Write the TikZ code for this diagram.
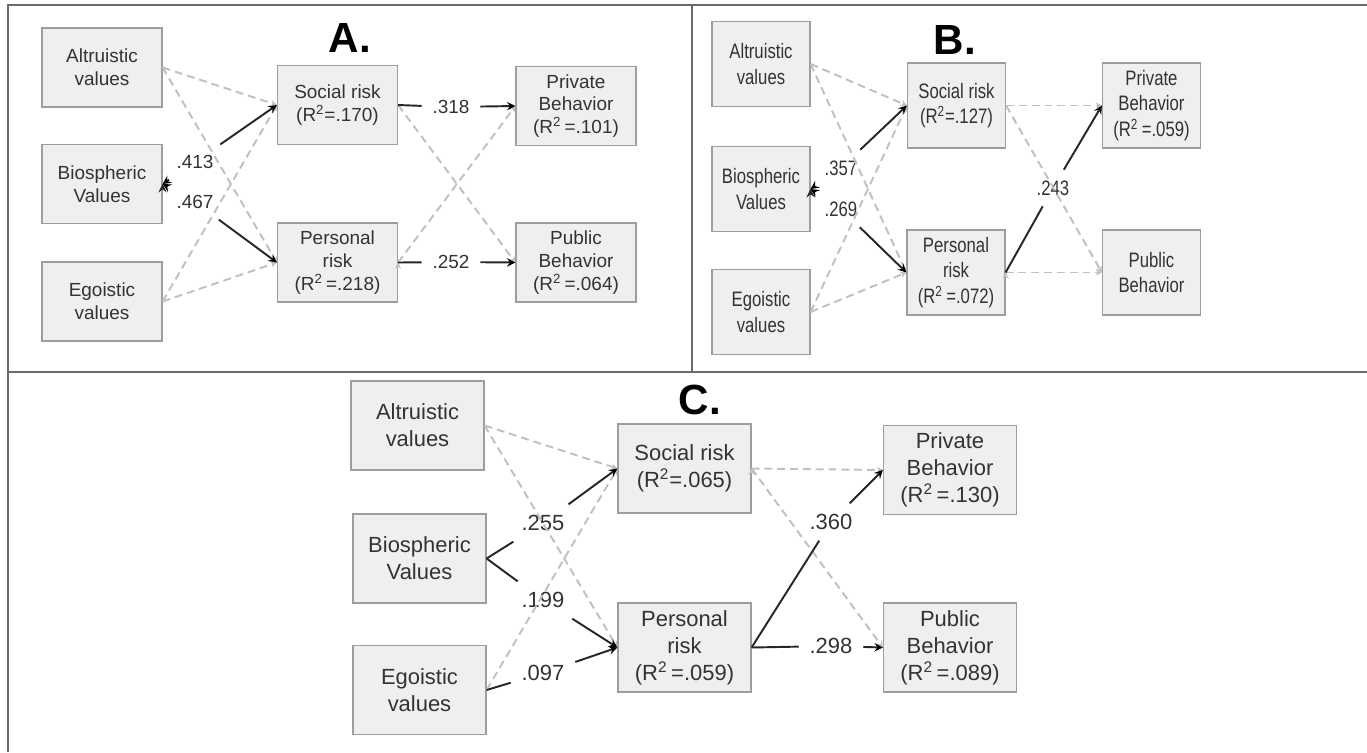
\documentclass[tikz,border=0pt]{standalone}
\usepackage{fontspec}
\setmainfont{Liberation Sans}
\newfontfamily\narrowfont[FakeStretch=0.8]{Liberation Sans}
\usetikzlibrary{arrows,arrows.meta,positioning}

\definecolor{boxfill}{HTML}{EFEFEF}
\definecolor{boxline}{HTML}{9E9E9E}
\definecolor{dashgray}{HTML}{C0C0C0}
\definecolor{pathblack}{HTML}{262626}
\definecolor{framegray}{HTML}{6B6B6B}
\definecolor{txtgray}{HTML}{333333}

\tikzset{
	var/.style={draw=boxline,fill=boxfill,align=center,inner sep=1pt,text=txtgray,line width=0.7pt},
	coef/.style={inner sep=6pt,text=txtgray},
	sig/.style={draw=pathblack,line width=1.1pt},
	nonsig/.style={draw=dashgray,line width=1.1pt,dash pattern=on 4.5pt off 2.8pt,
		-{Stealth[length=3.5pt,width=3.5pt]}},
	panel/.style={font=\fontsize{24}{24}\selectfont\bfseries,text=black,inner sep=0pt}
}

\begin{document}
\begin{tikzpicture}[x=0.02cm,y=-0.02cm]
	\useasboundingbox (0,0) rectangle (1367,752);
	\draw[framegray,line width=1.1pt] (8,752) -- (8,5) -- (1367,5);
	\draw[framegray,line width=1.1pt] (8,372) -- (1367,372);
	\draw[framegray,line width=1.1pt] (692,5) -- (692,372);

	% panel A
	\begin{scope}[every node/.append style={font=\fontsize{10.8}{13}\selectfont},
		var/.append style={minimum width=2.4cm,minimum height=1.58cm}]
		\node[panel] (ttlA) at (350,38) {A.};
		\node[var] (altA) at (102,67.5) {Altruistic\\values};
		\node[var] (bioA) at (102,184) {Biospheric\\Values};
		\node[var] (egoA) at (102,301.5) {Egoistic\\values};
		\node[var] (srA) at (337.5,105) {Social risk\\(R\textsuperscript{2}=.170)};
		\node[var] (prA) at (337.5,262.5) {Personal\\risk\\(R\textsuperscript{2}\,=.218)};
		\node[var] (privA) at (576,106) {Private\\Behavior\\(R\textsuperscript{2}\,=.101)};
		\node[var] (pubA) at (576,262.5) {Public\\Behavior\\(R\textsuperscript{2}\,=.064)};
		\node[coef] (l413) at (195,162) {.413};
		\node[coef] (l467) at (195,202) {.467};
		\node[coef] (l318) at (451,107) {.318};
		\node[coef] (l252) at (451,262) {.252};
		\path[nonsig]
		(altA.east) edge (srA.west)
		(altA.east) edge (prA.west)
		(egoA.east) edge (srA.west)
		(egoA.east) edge (prA.west)
		(srA.east) edge (pubA.west)
		(prA.east) edge (privA.west);
		\path[sig,stealth-]
		(bioA.east) edge (l413)
		(bioA.east) edge (l467);
		\path[sig,-stealth]
		(l413) edge (srA.west)
		(l467) edge (prA.west)
		(l318) edge (privA.west)
		(l252) edge (pubA.west);
		\path[sig]
		(srA.east) edge (l318)
		(prA.east) edge (l252);
	\end{scope}

	% panel B
	\begin{scope}[every node/.append style={font=\narrowfont\fontsize{11.9}{14.7}\selectfont},
		var/.append style={minimum width=1.96cm,minimum height=1.7cm}]
		\node[panel] (ttlB) at (955,40) {B.};
		\node[var] (altB) at (761,64) {Altruistic\\values};
		\node[var] (bioB) at (761,189) {Biospheric\\Values};
		\node[var] (egoB) at (761,312) {Egoistic\\values};
		\node[var] (srB) at (956.5,105.5) {Social risk\\(R\textsuperscript{2}=.127)};
		\node[var] (prB) at (956,272.5) {Personal\\risk\\(R\textsuperscript{2}\,=.072)};
		\node[var] (privB) at (1151.5,105.5) {Private\\Behavior\\(R\textsuperscript{2}\,=.059)};
		\node[var] (pubB) at (1151.5,272.5) {Public\\Behavior};
		\node[coef] (l357) at (841,168) {.357};
		\node[coef] (l269) at (841,209) {.269};
		\node[coef] (l243) at (1053,188) {.243};
		\path[nonsig]
		(altB.east) edge (srB.west)
		(altB.east) edge (prB.west)
		(egoB.east) edge (srB.west)
		(egoB.east) edge (prB.west)
		(srB.east) edge (privB.west)
		(srB.east) edge (pubB.west)
		(prB.east) edge (pubB.west);
		\path[sig,stealth-]
		(bioB.east) edge (l357)
		(bioB.east) edge (l269);
		\path[sig,-stealth]
		(l357) edge (srB.west)
		(l269) edge (prB.west)
		(l243) edge (privB.west);
		\path[sig]
		(prB.east) edge (l243);
	\end{scope}

	% panel C
	\begin{scope}[every node/.append style={font=\fontsize{12.5}{15.3}\selectfont},
		var/.append style={minimum width=2.66cm,minimum height=1.78cm}]
		\node[panel] (ttlC) at (700,400) {C.};
		\node[var] (altC) at (417.5,425.5) {Altruistic\\values};
		\node[var] (bioC) at (419.5,558.5) {Biospheric\\Values};
		\node[var] (egoC) at (419.5,690) {Egoistic\\values};
		\node[var] (srC) at (684.5,468.5) {Social risk\\(R\textsuperscript{2}=.065)};
		\node[var] (prC) at (684.5,647.5) {Personal\\risk\\(R\textsuperscript{2}\,=.059)};
		\node[var] (privC) at (950,470) {Private\\Behavior\\(R\textsuperscript{2}\,=.130)};
		\node[var] (pubC) at (950,647.5) {Public\\Behavior\\(R\textsuperscript{2}\,=.089)};
		\node[coef] (l255) at (543,523) {.255};
		\node[coef] (l199) at (543,600) {.199};
		\node[coef] (l097) at (543,673) {.097};
		\node[coef] (l360) at (831,522) {.360};
		\node[coef] (l298) at (831,646) {.298};
		\path[nonsig]
		(altC.east) edge (srC.west)
		(altC.east) edge (prC.west)
		(egoC.east) edge (srC.west)
		(srC.east) edge (privC.west)
		(srC.east) edge (pubC.west);
		\path[sig]
		(bioC.east) edge (l255)
		(bioC.east) edge (l199)
		(egoC.east) edge (l097)
		(prC.east) edge (l360)
		(prC.east) edge (l298);
		\path[sig,-stealth]
		(l255) edge (srC.west)
		(l199) edge (prC.west)
		(l097) edge (prC.west)
		(l360) edge (privC.west)
		(l298) edge (pubC.west);
	\end{scope}
\end{tikzpicture}
\end{document}
